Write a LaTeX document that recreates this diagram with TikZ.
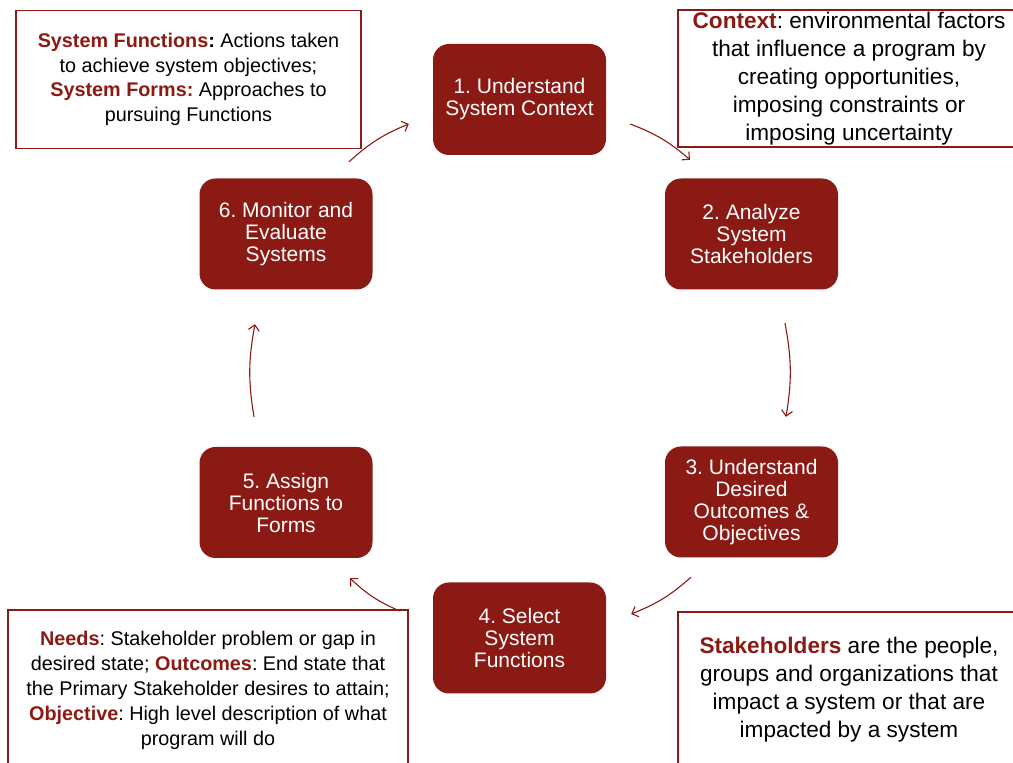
\documentclass[tikz,border=0pt]{standalone}
\usepackage{fontspec}
\setmainfont{Liberation Sans}
\usetikzlibrary{arrows.meta}
\definecolor{dkred}{RGB}{140,26,20}
\newcommand{\keyterm}[1]{{\color{dkred}\bfseries #1}}
\frenchspacing

\begin{document}
\begin{tikzpicture}[x = 1pt, y = 1pt,
    stepbox/.style = {fill = dkred, rounded corners = 16pt, text = white,
        minimum width = 173pt, minimum height = 111pt, inner sep = 0pt,
        align = center, font = \fontsize{21}{22}\selectfont},
    notebox/.style = {draw = dkred, line width = 1.6pt, fill = white,
        inner sep = 0pt, align = center},
    flow/.style = {draw = dkred, line width = 1.1pt,
        -{Straight Barb[length = 5.5pt, width = 11pt]}}]
            \useasboundingbox (0,0) rectangle (1013,763);
            \clip (0,0) rectangle (1013,763);

            % the six steps of the cycle
            \node[stepbox] (n1) at (519.5,663.5) {1. Understand\\System Context};
            \node[stepbox] (n2) at (751.5,529) {2. Analyze\\System\\Stakeholders};
            \node[stepbox] (n3) at (751.5,261) {3. Understand\\Desired\\Outcomes \&\\Objectives};
            \node[stepbox] (n4) at (519.5,125) {4. Select\\System\\Functions};
            \node[stepbox] (n5) at (286,260.5) {5. Assign\\Functions to\\Forms};
            \node[stepbox] (n6) at (286,529) {6. Monitor and\\Evaluate\\Systems};

            % definitions
            \node[notebox, minimum width = 345pt, minimum height = 138pt,
                font = \fontsize{19.8}{24.5}\selectfont] (functions) at (188.5,683.5)
                {\keyterm{System Functions}\textbf{:} Actions taken\\to achieve system objectives;\\\keyterm{System Forms:} Approaches to\\pursuing Functions};
            \node[notebox, minimum width = 342pt, minimum height = 137pt,
                font = \fontsize{22.6}{28}\selectfont] (context) at (849,684.5)
                {\keyterm{Context}: environmental factors\\that influence a program by\\creating opportunities,\\imposing constraints or\\imposing uncertainty};
            \node[notebox, minimum width = 400pt, minimum height = 160pt,
                font = \fontsize{19.8}{25}\selectfont] (needs) at (208,73)
                {\keyterm{Needs}: Stakeholder problem or gap in\\desired state; \keyterm{Outcomes}: End state that\\the Primary Stakeholder desires to attain;\\\keyterm{Objective}: High level description of what\\program will do};
            \node[notebox, minimum width = 342pt, minimum height = 156pt,
                font = \fontsize{22.6}{28}\selectfont] (stakeholders) at (849,73)
                {\keyterm{Stakeholders} are the people,\\groups and organizations that\\impact a system or that are\\impacted by a system};

            % arrows round the cycle
            \coordinate (a12) at ([shift = {(24,-24.5)}]n1.east);
            \coordinate (b12) at ([shift = {(-61.5,18.5)}]n2.north);
            \coordinate (a23) at ([shift = {(33.5,-33.5)}]n2.south);
            \coordinate (b23) at ([shift = {(34.5,29.5)}]n3.north);
            \coordinate (a34) at ([shift = {(-60.5,-19.5)}]n3.south);
            \coordinate (b34) at ([shift = {(25,24)}]n4.east);
            \coordinate (a45) at ([shift = {(-33,27)}]n4.west);
            \coordinate (b45) at ([shift = {(64,-20)}]n5.south);
            \coordinate (a56) at ([shift = {(-32,30)}]n5.north);
            \coordinate (b56) at ([shift = {(-31,-34.5)}]n6.south);
            \coordinate (a61) at ([shift = {(63,16.5)}]n6.north);
            \coordinate (b61) at ([shift = {(-24,-24.5)}]n1.west);

            \draw[flow] (a12) to[bend left = 10] (b12);
            \draw[flow] (a23) to[bend left = 10] (b23);
            \draw[flow] (a34) to[bend left = 10] (b34);
            \draw[flow] (a45) to[bend left = 10] (b45);
            \draw[flow] (a56) to[bend left = 10] (b56);
            \draw[flow] (a61) to[bend left = 10] (b61);
        \end{tikzpicture}
\end{document}
